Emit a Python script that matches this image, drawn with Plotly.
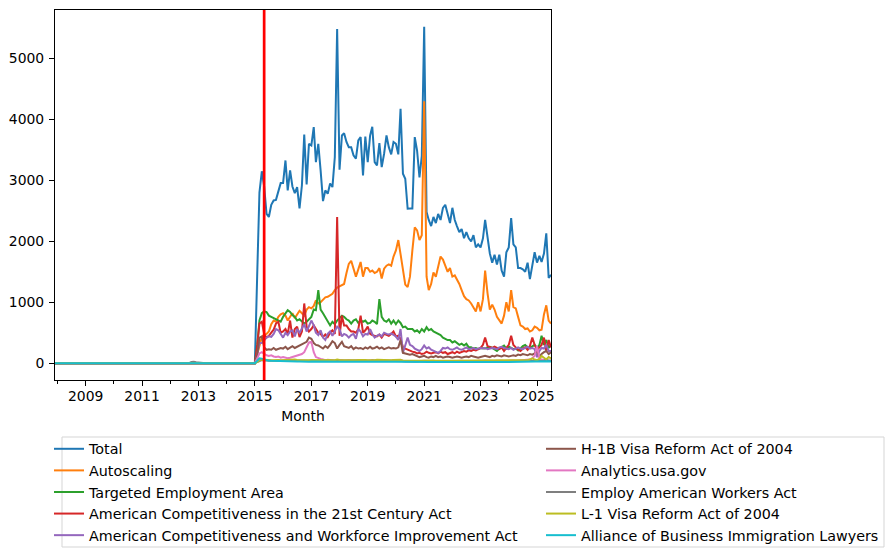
import pandas as pd
import plotly.graph_objects as go

# Monthly index: Dec 2007 .. Jul 2025 (212 months)
months = pd.date_range("2007-12-01", periods=212, freq="MS")

# Dec 2007 .. Dec 2014 (85 months) - all series essentially zero
pre_zero = [0,
            0, 0, 0, 0, 0, 0, 0, 0, 0, 0, 0, 0,
            0, 0, 0, 0, 0, 0, 0, 0, 0, 0, 0, 0,
            0, 0, 0, 0, 0, 0, 0, 0, 0, 0, 0, 0,
            0, 0, 0, 0, 0, 0, 0, 0, 0, 0, 0, 0,
            0, 0, 0, 0, 0, 0, 0, 0, 0, 0, 0, 0,
            0, 0, 0, 0, 0, 0, 0, 0, 0, 0, 0, 0,
            0, 0, 0, 0, 0, 0, 0, 0, 0, 0, 0, 0]
pre_gray = [0,
            0, 0, 0, 0, 0, 0, 0, 0, 0, 0, 0, 0,
            0, 0, 0, 0, 0, 0, 0, 0, 0, 0, 0, 0,
            0, 0, 0, 0, 0, 0, 0, 0, 0, 0, 10, 0,
            0, 0, 0, 0, 0, 0, 0, 10, 0, 0, 0, 0,
            0, 0, 0, 0, 0, 0, 0, 0, 0, 20, 25, 15,
            10, 0, 0, 0, 0, 0, 0, 0, 0, 0, 0, 0,
            0, 0, 0, 0, 0, 0, 0, 0, 0, 0, 0, 0]

# Jan 2015 .. Jul 2025 (127 months)
total = [0, 1500, 2800, 3150, 2900, 2450, 2400, 2600, 2670, 2680, 2835, 2955,
         2955, 3327, 2835, 3163, 2900, 2792, 2890, 2540, 2920, 3753, 2934, 3600,
         3572, 3873, 3300, 3600, 3163, 2660, 2835, 2780, 2950, 2890, 3382, 5485,
         3174, 3737, 3775, 3630, 3545, 3545, 3410, 3355, 3655, 3710, 3081, 3720,
         3300, 3737, 3880, 3300, 3245, 3610, 3218, 3437, 3737, 3545, 3427, 3630,
         3600, 3427, 4174, 3108, 3027, 2535, 2540, 2540, 3710, 3490, 3050, 3400,
         5520, 2480, 2350, 2250, 2400, 2300, 2450, 2350, 2550, 2600, 2450, 2300,
         2550, 2350, 2250, 2150, 2200, 2050, 2150, 2050, 2000, 2100, 1900, 1950,
         1900, 2050, 2350, 2100, 1800, 1650, 1780, 1620, 1780, 1520, 1420, 1820,
         1900, 2380, 1950, 1900, 1560, 1560, 1540, 1500, 1650, 1380, 1600, 1820,
         1650, 1760, 1660, 1800, 2130, 1400, 1450]
autoscaling = [0, 150, 300, 430, 470, 480, 520, 640, 700, 680, 760, 800,
               820, 780, 700, 760, 820, 740, 800, 860, 820, 780, 880, 920,
               900, 940, 1030, 980, 1000, 1050, 1080, 1090, 1120, 1140, 1200, 1240,
               1260, 1280, 1300, 1480, 1630, 1680, 1560, 1420, 1540, 1660, 1420, 1560,
               1560, 1500, 1520, 1480, 1500, 1560, 1390, 1550, 1600, 1620, 1600, 1750,
               1850, 2020, 1790, 1500, 1290, 1250, 1420, 1850, 2230, 2180, 2020, 2100,
               4300, 1420, 1200, 1300, 1490, 1420, 1600, 1750, 1700, 1600, 1500, 1560,
               1420, 1440, 1380, 1300, 1200, 1100, 1050, 1030, 980, 920, 850, 1000,
               850, 1050, 1520, 1150, 880, 960, 880, 760, 700, 650, 780, 1000,
               850, 1200, 920, 900, 760, 620, 600, 560, 570, 520, 540, 600,
               580, 540, 550, 800, 950, 700, 650]
targeted = [0, 300, 700, 820, 850, 840, 780, 760, 740, 720, 700, 680,
            760, 810, 870, 840, 790, 760, 700, 720, 690, 650, 680, 720,
            760, 880, 870, 1200, 880, 820, 760, 700, 620, 680, 640, 700,
            740, 780, 760, 720, 700, 650, 700, 720, 660, 700, 680, 700,
            650, 660, 700, 680, 640, 1050, 760, 700, 680, 720, 650, 700,
            640, 700, 660, 590, 600, 560, 560, 560, 520, 540, 500, 560,
            520, 590, 540, 560, 520, 500, 480, 460, 420, 400, 380, 380,
            340, 360, 330, 300, 320, 290, 320, 260, 260, 240, 250, 230,
            250, 240, 240, 260, 270, 250, 230, 200, 240, 260, 290, 240,
            270, 250, 230, 240, 210, 240, 280, 300, 260, 250, 280, 300,
            250, 300, 450, 300, 380, 250, 300]
ac21 = [0, 300, 650, 680, 480, 420, 450, 500, 550, 650, 680, 500,
        520, 560, 480, 700, 420, 560, 600, 430, 520, 980, 600, 520,
        560, 620, 560, 500, 480, 430, 470, 430, 500, 540, 480, 2400,
        450, 780, 620, 620, 560, 520, 520, 500, 560, 780, 500, 540,
        600, 480, 460, 450, 440, 470, 420, 480, 460, 450, 480, 520,
        440, 450, 400, 260, 240, 220, 210, 190, 180, 160, 170, 150,
        160, 190, 170, 160, 170, 180, 160, 190, 170, 180, 150, 170,
        180, 160, 190, 170, 180, 200, 190, 210, 200, 220, 210, 230,
        250, 300, 420, 280, 260, 250, 270, 250, 230, 260, 200, 250,
        300, 450, 300, 260, 220, 200, 240, 260, 220, 280, 420, 300,
        220, 260, 300, 420, 200, 380, 260]
acwia = [0, 150, 330, 330, 380, 420, 440, 430, 480, 560, 540, 480,
         420, 500, 460, 520, 540, 440, 560, 500, 560, 640, 520, 600,
         700, 620, 500, 460, 540, 420, 380, 480, 520, 450, 520, 600,
         560, 440, 480, 460, 420, 460, 480, 400, 560, 520, 440, 480,
         470, 560, 480, 420, 450, 470, 440, 500, 480, 470, 490, 460,
         440, 380, 560, 170, 300, 420, 300, 280, 240, 220, 200, 230,
         290, 240, 260, 220, 200, 180, 170, 200, 250, 240, 260, 230,
         220, 240, 260, 230, 220, 240, 260, 230, 240, 250, 230, 240,
         250, 240, 250, 230, 240, 250, 240, 230, 260, 270, 250, 240,
         230, 250, 220, 240, 260, 240, 230, 250, 270, 240, 250, 230,
         100, 200, 250, 240, 300, 200, 200]
h1b_reform = [0, 150, 420, 440, 260, 220, 230, 220, 250, 220, 240, 250,
              240, 270, 230, 260, 280, 250, 270, 300, 320, 330, 350, 420,
              400, 330, 300, 290, 260, 240, 280, 250, 300, 360, 330, 240,
              300, 350, 280, 260, 250, 280, 230, 260, 240, 250, 230, 260,
              240, 270, 240, 250, 270, 240, 260, 230, 250, 260, 240, 250,
              240, 260, 380, 170, 160, 150, 140, 150, 130, 110, 100, 110,
              120, 100, 90, 110, 100, 120, 100, 110, 90, 100, 110, 100,
              90, 100, 110, 100, 90, 100, 110, 100, 120, 110, 100, 90,
              100, 110, 120, 110, 100, 120, 110, 130, 120, 110, 130, 120,
              110, 120, 130, 120, 140, 130, 150, 140, 130, 150, 140, 160,
              200, 100, 150, 180, 200, 150, 180]
analytics = [0, 80, 160, 180, 150, 130, 120, 130, 110, 100, 110, 90,
             100, 90, 80, 90, 100, 110, 120, 130, 150, 180, 250, 340,
             350, 180, 100, 80, 70, 60, 50, 55, 50, 45, 50, 40,
             45, 50, 40, 45, 50, 40, 45, 40, 50, 45, 40, 45,
             40, 45, 50, 40, 45, 40, 50, 45, 40, 45, 40, 50,
             45, 40, 50, 35, 30, 35, 30, 35, 30, 35, 30, 35,
             40, 35, 30, 35, 30, 35, 40, 35, 30, 35, 30, 35,
             30, 35, 30, 35, 40, 35, 30, 35, 30, 35, 30, 40,
             35, 40, 45, 40, 35, 40, 35, 40, 45, 40, 35, 40,
             45, 50, 45, 40, 45, 50, 45, 50, 55, 60, 80, 120,
             280, 80, 60, 50, 50, 40, 40]
eawa = [0, 20, 40, 50, 45, 40, 42, 38, 40, 45, 42, 40,
        42, 45, 40, 38, 45, 50, 42, 40, 44, 48, 45, 40,
        42, 40, 38, 45, 42, 40, 38, 42, 45, 40, 38, 50,
        42, 40, 45, 38, 40, 42, 40, 38, 42, 45, 40, 42,
        40, 38, 42, 40, 45, 42, 38, 40, 42, 40, 38, 42,
        40, 38, 45, 30, 28, 30, 32, 28, 30, 28, 30, 32,
        35, 30, 28, 30, 32, 30, 28, 30, 32, 30, 28, 30,
        30, 32, 28, 30, 32, 30, 28, 30, 32, 30, 28, 30,
        32, 30, 35, 30, 28, 30, 32, 30, 28, 30, 32, 30,
        30, 35, 32, 30, 28, 30, 32, 30, 35, 30, 40, 35,
        40, 35, 38, 40, 60, 40, 45]
l1_reform = [0, 20, 50, 60, 55, 50, 52, 48, 50, 55, 52, 50,
             52, 55, 50, 48, 55, 60, 52, 50, 54, 58, 55, 50,
             52, 50, 48, 55, 52, 50, 48, 52, 55, 50, 48, 60,
             52, 50, 55, 48, 50, 52, 50, 48, 52, 55, 50, 52,
             50, 48, 52, 50, 55, 52, 48, 50, 52, 50, 48, 52,
             50, 48, 55, 40, 38, 40, 42, 38, 40, 38, 40, 42,
             45, 40, 38, 40, 42, 40, 38, 40, 42, 40, 38, 40,
             40, 42, 38, 40, 42, 40, 38, 40, 42, 40, 38, 40,
             42, 40, 45, 40, 38, 40, 42, 40, 38, 40, 42, 40,
             40, 45, 42, 40, 38, 40, 42, 45, 50, 60, 80, 60,
             50, 70, 120, 90, 60, 100, 80]
abil = [0, 40, 80, 75, 60, 45, 40, 38, 36, 35, 34, 32,
        30, 32, 30, 28, 30, 28, 26, 28, 30, 28, 26, 25,
        26, 25, 24, 26, 25, 24, 23, 25, 24, 23, 25, 24,
        23, 24, 25, 23, 22, 24, 23, 22, 24, 23, 22, 23,
        22, 23, 24, 22, 23, 22, 24, 23, 22, 23, 22, 24,
        23, 22, 24, 20, 19, 20, 21, 19, 20, 19, 20, 21,
        22, 20, 19, 20, 21, 20, 19, 20, 21, 20, 19, 20,
        20, 21, 19, 20, 21, 20, 19, 20, 21, 20, 19, 20,
        21, 20, 22, 20, 19, 20, 21, 20, 19, 20, 21, 20,
        20, 22, 21, 20, 19, 20, 21, 22, 24, 25, 28, 26,
        30, 28, 30, 32, 35, 30, 28]

series_names = ["Total", "Autoscaling", "Targeted Employment Area",
                "American Competitiveness in the 21st Century Act",
                "American Competitiveness and Workforce Improvement Act",
                "H-1B Visa Reform Act of 2004", "Analytics.usa.gov",
                "Employ American Workers Act", "L-1 Visa Reform Act of 2004",
                "Alliance of Business Immigration Lawyers"]
series_values = [pre_zero + total, pre_zero + autoscaling, pre_zero + targeted,
                 pre_zero + ac21, pre_zero + acwia, pre_zero + h1b_reform,
                 pre_zero + analytics, pre_gray + eawa, pre_zero + l1_reform,
                 pre_zero + abil]
colors = ["#1f77b4", "#ff7f0e", "#2ca02c", "#d62728", "#9467bd",
          "#8c564b", "#e377c2", "#7f7f7f", "#bcbd22", "#17becf"]
legend_column = ["legend", "legend", "legend", "legend", "legend",
                 "legend2", "legend2", "legend2", "legend2", "legend2"]
event_month = "2015-05-01"

FONT = "DejaVu Sans"
FS = 13.9
LEG_FS = 14.3

fig = go.Figure()
for name, vals, col, lg in zip(series_names, series_values, colors, legend_column):
    fig.add_trace(go.Scatter(x=months, y=vals, mode="lines", name=name,
                             line=dict(color=col, width=2), legend=lg))

W, H = 893, 557
ml, mr, mt, mb = 55, 8, 10, 177
gw = W - ml - mr
gh = H - mt - mb
dom_right = 496 / gw


def px_x(p):
    return (p - ml) / gw


def px_y(p):
    return (H - mb - p) / gh


fig.add_shape(type="line", xref="x", yref="paper", x0=event_month, x1=event_month,
              y0=0, y1=1, line=dict(color="red", width=2.7), layer="above")
# legend frame
fig.add_shape(type="rect", xref="paper", yref="paper",
              x0=px_x(62), x1=px_x(884), y0=px_y(547), y1=px_y(437),
              line=dict(color="#d5d5d5", width=1), fillcolor="rgba(0,0,0,0)")

leg_common = dict(orientation="v", xanchor="left", yanchor="top",
                  bgcolor="rgba(0,0,0,0)", borderwidth=0, itemwidth=30,
                  font=dict(family=FONT, size=LEG_FS, color="black"),
                  traceorder="normal")

fig.update_layout(
    width=W, height=H,
    margin=dict(l=ml, r=mr, t=mt, b=mb, pad=0, autoexpand=False),
    plot_bgcolor="white", paper_bgcolor="white",
    font=dict(family=FONT, size=FS, color="black"),
    showlegend=True,
    legend=dict(x=px_x(49), y=px_y(433), **leg_common),
    legend2=dict(x=px_x(541), y=px_y(433), **leg_common),
    xaxis=dict(domain=[0, dom_right], type="date",
               range=["2007-12-01", "2025-07-01"],
               tickmode="linear", tick0="2009-01-01", dtick="M24", tickformat="%Y",
               ticks="outside", ticklen=5, tickwidth=1, tickcolor="black",
               ticklabelstandoff=-2,
               showline=True, mirror=True, linecolor="black", linewidth=1,
               showgrid=False, zeroline=False,
               minor=dict(tickmode="linear", tick0="2008-01-01", dtick="M12",
                          ticks="outside", ticklen=3, tickwidth=1, tickcolor="black",
                          showgrid=False),
               title=dict(text="Month", font=dict(family=FONT, size=FS, color="black"),
                          standoff=8),
               tickfont=dict(family=FONT, size=FS, color="black")),
    yaxis=dict(range=[-276, 5796], tickmode="array",
               tickvals=[0, 1000, 2000, 3000, 4000, 5000],
               ticks="outside", ticklen=5, tickwidth=1, tickcolor="black",
               ticklabelstandoff=2,
               showline=True, mirror=True, linecolor="black", linewidth=1,
               showgrid=False, zeroline=False,
               tickfont=dict(family=FONT, size=FS, color="black")),
)

fig.write_html("out.html", config={"displayModeBar": False},
               post_script="document.body.style.margin='0';document.body.style.padding='0';")
